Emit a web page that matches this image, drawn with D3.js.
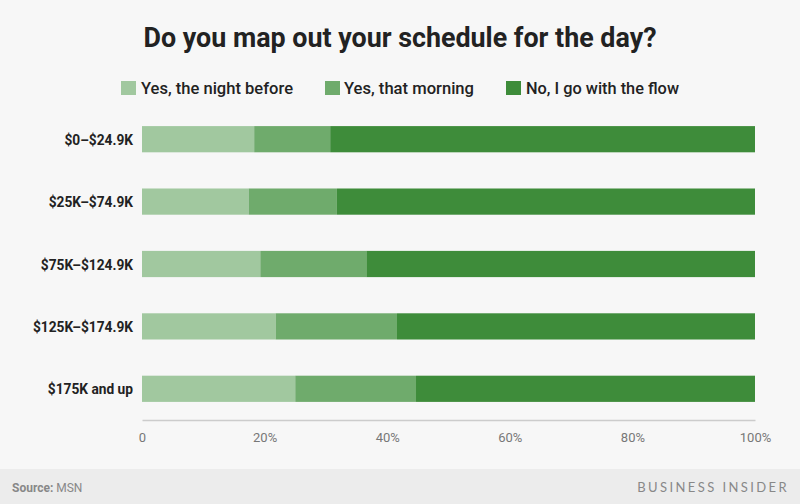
<!DOCTYPE html>
<html><head><meta charset="utf-8">
<script src="https://cdn.jsdelivr.net/npm/d3@7"></script>
<style>html,body{margin:0;padding:0;background:#f7f7f7;}svg{display:block;}</style>
</head><body>
<svg id="chart" width="800" height="504"></svg>
<script>
const categories = ["$0–$24.9K", "$25K–$74.9K", "$75K–$124.9K", "$125K–$174.9K", "$175K and up"];
const seriesNames = ["Yes, the night before", "Yes, that morning", "No, I go with the flow"];
const nightBefore = [18.3, 17.4, 19.3, 21.8, 25.0];
const thatMorning = [12.4, 14.4, 17.3, 19.8, 19.7];
const withFlow = [69.3, 68.2, 63.4, 58.4, 55.3];
const ticks = [0, 20, 40, 60, 80, 100];
const tickLabels = ["0", "20%", "40%", "60%", "80%", "100%"];
const colors = ["#a1c89f", "#6fab6c", "#3e8c3a"];

const svg = d3.select("#chart");
const W = 800, H = 504;
svg.append("rect").attr("width", W).attr("height", H).attr("fill", "#f7f7f7");
svg.append("rect").attr("y", 469).attr("width", W).attr("height", H - 469).attr("fill", "#ececec");

// Title
svg.append("text").attr("x", 400).attr("y", 46.5).attr("text-anchor", "middle")
  .attr("font-family", "Roboto").attr("font-weight", 700).attr("font-size", 27)
  .attr("fill", "#222").attr("textLength", 513).attr("lengthAdjust", "spacingAndGlyphs")
  .text("Do you map out your schedule for the day?");

// Legend
const legendItems = [
  {sx: 121, tx: 141, tw: 152},
  {sx: 325, tx: 344, tw: 130},
  {sx: 506, tx: 526, tw: 153}
];
legendItems.forEach((d, i) => {
  svg.append("rect").attr("x", d.sx).attr("y", 81).attr("width", 15).attr("height", 14).attr("fill", colors[i]);
  svg.append("text").attr("x", d.tx).attr("y", 93.5).attr("font-family", "Roboto").attr("font-weight", 500)
    .attr("font-size", 17).attr("fill", "#222").attr("textLength", d.tw).attr("lengthAdjust", "spacingAndGlyphs")
    .text(seriesNames[i]);
});

const x = d3.scaleLinear().domain([0, 100]).range([142, 755]);
const y = d3.scaleBand().domain(categories).range([108, 420]).paddingInner(0.58).paddingOuter(0.29);

const rows = categories.map((c, i) => ({cat: c, v0: nightBefore[i], v1: thatMorning[i], v2: withFlow[i]}));
const stack = d3.stack().keys(["v0", "v1", "v2"])(rows);

svg.append("g").selectAll("g").data(stack).join("g").attr("fill", (d, i) => colors[i])
  .selectAll("rect").data(d => d).join("rect")
  .attr("x", d => x(d[0])).attr("width", d => x(Math.min(d[1], 100)) - x(d[0]))
  .attr("y", d => y(d.data.cat)).attr("height", y.bandwidth());

// category labels
svg.append("g").selectAll("text").data(categories).join("text")
  .attr("x", 133).attr("y", d => y(d) + y.bandwidth() / 2 + 5.5)
  .attr("text-anchor", "end").attr("font-family", "Roboto").attr("font-weight", 700)
  .attr("font-size", 15.5).attr("fill", "#222").text(d => d)
  .each(function() {
    const w = this.getComputedTextLength();
    d3.select(this).attr("textLength", w * 0.885).attr("lengthAdjust", "spacingAndGlyphs");
  });

// x axis
const axis = d3.axisBottom(x).tickValues(ticks).tickFormat((d, i) => tickLabels[i]).tickSize(0).tickPadding(13);
const ax = svg.append("g").attr("transform", "translate(0,420)").call(axis);
ax.select(".domain").attr("stroke", "#cccccc").attr("stroke-width", 1.5);
ax.selectAll("text").attr("font-family", "Roboto").attr("font-size", 13).attr("fill", "#777");

// footer
const src = svg.append("text").attr("x", 12).attr("y", 492).attr("font-family", "Roboto").attr("font-size", 12).attr("fill", "#888");
src.append("tspan").attr("font-weight", 700).text("Source: ");
src.append("tspan").text("MSN");
svg.append("text").attr("x", 789).attr("y", 492).attr("text-anchor", "end")
  .attr("font-family", "Lato").attr("font-size", 13).attr("letter-spacing", 2.4).attr("fill", "#888")
  .text("BUSINESS INSIDER");
</script>
</body></html>
